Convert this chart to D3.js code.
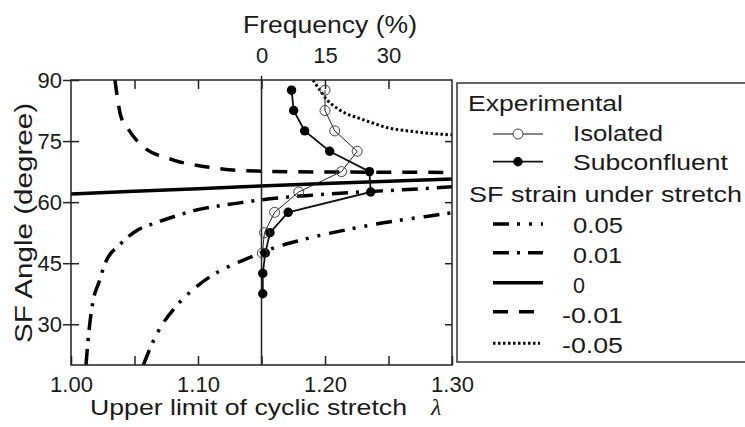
<!DOCTYPE html>
<html>
<head>
<meta charset="utf-8">
<script src="https://cdn.jsdelivr.net/npm/d3@7"></script>
<style>
  body { margin: 0; background: #fff; }
  svg { display: block; font-family: "Liberation Sans", Arial, sans-serif; }
  text { fill: #1a1a1a; }
</style>
</head>
<body>
<svg id="chart"></svg>
<script>
// tick values
const lambdaTicks = [1.00, 1.05, 1.10, 1.15, 1.20, 1.25, 1.30];
const lambdaLabels = [1.00, 1.10, 1.20, 1.30];
const angleTicks = [30, 45, 60, 75, 90];
const freqTicks = [0, 15, 30];

// experimental histograms (angle bin centre -> frequency %)
const isoAngles = [87.5, 82.5, 77.5, 72.5, 67.5, 62.5, 57.5, 52.5, 47.5];
const isolated = [15.0, 15.0, 17.3, 22.6, 18.9, 8.8, 3.1, 0.7, 0.2];
const subAngles = [87.5, 82.5, 77.5, 72.5, 67.5, 62.5, 57.5, 52.5, 47.5, 42.5, 37.5];
const subconfluent = [7.1, 7.6, 10.2, 16.1, 25.5, 25.8, 6.3, 2.0, 0.9, 0.3, 0.3];

// SF strain curves, [lambda, angle]
const strain005 = [[1.057, 20], [1.065, 26], [1.072, 30], [1.083, 34.5], [1.096, 38.5], [1.11, 41.8],
  [1.125, 44.3], [1.14, 46.3], [1.16, 48.8], [1.18, 50.6], [1.20, 52.1], [1.22, 53.4],
  [1.24, 54.6], [1.26, 55.6], [1.28, 56.5], [1.30, 57.4]];
const strain001 = [[1.0118, 20], [1.0134, 26], [1.0173, 35.6], [1.022, 40.3], [1.0268, 44.9],
  [1.0386, 49.6], [1.0528, 53.2], [1.0677, 55.0], [1.0835, 56.7], [1.098, 58.0], [1.113, 58.9],
  [1.13, 59.7], [1.143, 60.3], [1.165, 61.1], [1.194, 61.8], [1.223, 62.4], [1.265, 63.1], [1.30, 63.8]];
const strain0 = [[1.00, 62.0], [1.10, 63.3], [1.20, 64.6], [1.30, 65.7]];
const strainM001 = [[1.0346, 90], [1.036, 86.8], [1.039, 81.4], [1.046, 77.5], [1.055, 74.1],
  [1.08, 70.4], [1.102, 68.9], [1.127, 67.9], [1.15, 67.6], [1.20, 67.4], [1.25, 67.35], [1.30, 67.3]];
const strainM005 = [[1.1906, 90], [1.196, 87.5], [1.2016, 85.1], [1.208, 83.4], [1.2157, 81.9],
  [1.226, 80.7], [1.237, 79.5], [1.25, 78.2], [1.263, 77.6], [1.276, 77.1], [1.30, 76.5]];

const strainSeries = [
  { label: "0.05", data: strain005, dash: "16,8,3,9,3,9", width: 3.5 },
  { label: "0.01", data: strain001, dash: "16,8,3,8", width: 3.5 },
  { label: "0", data: strain0, dash: null, width: 3.5 },
  { label: "-0.01", data: strainM001, dash: "15,11", width: 3.5 },
  { label: "-0.05", data: strainM005, dash: "2.5,2.5", width: 3 }
];

const W = 745, H = 427;
const svg = d3.select("#chart").attr("width", W).attr("height", H);
svg.append("rect").attr("width", W).attr("height", H).attr("fill", "#fff");

const x = d3.scaleLinear().domain([1.0, 1.3]).range([71, 452]);
const y = d3.scaleLinear().domain([20, 90]).range([365, 80]);
const f = d3.scaleLinear().domain([-45, 45]).range([71, 452]);

svg.append("clipPath").attr("id", "plotclip")
  .append("rect").attr("x", 71).attr("y", 80).attr("width", 381).attr("height", 285);

// model curves
const curveLine = d3.line().x(d => x(d[0])).y(d => y(d[1])).curve(d3.curveMonotoneX);
const curves = svg.append("g").attr("clip-path", "url(#plotclip)");
strainSeries.forEach(s => {
  curves.append("path")
    .datum(s.data)
    .attr("d", curveLine)
    .attr("fill", "none")
    .attr("stroke", "#000")
    .attr("stroke-width", s.width)
    .attr("stroke-dasharray", s.dash);
});

// frequency zero line
svg.append("line")
  .attr("x1", f(0)).attr("x2", f(0))
  .attr("y1", 76).attr("y2", 365)
  .attr("stroke", "#222").attr("stroke-width", 1.5);

// experimental data
const isoPts = isoAngles.map((a, i) => [isolated[i], a]);
const subPts = subAngles.map((a, i) => [subconfluent[i], a]);
const expLine = d3.line().x(d => f(d[0])).y(d => y(d[1]));

svg.append("path").datum(subPts).attr("d", expLine)
  .attr("fill", "none").attr("stroke", "#111").attr("stroke-width", 1.8);
svg.append("path").datum(isoPts).attr("d", expLine)
  .attr("fill", "none").attr("stroke", "#222").attr("stroke-width", 1);

svg.selectAll(".sub").data(subPts).enter().append("circle")
  .attr("class", "sub")
  .attr("cx", d => f(d[0])).attr("cy", d => y(d[1]))
  .attr("r", 4.7).attr("fill", "#000");
svg.selectAll(".iso").data(isoPts).enter().append("circle")
  .attr("class", "iso")
  .attr("cx", d => f(d[0])).attr("cy", d => y(d[1]))
  .attr("r", 5).attr("fill", "none").attr("stroke", "#444").attr("stroke-width", 1);

// axes
function styleAxis(g) {
  g.select(".domain").remove();
  g.selectAll(".tick line").attr("stroke", "#222").attr("stroke-width", 1.5);
  g.selectAll(".tick text").attr("font-size", 22).attr("fill", "#1a1a1a")
    .attr("font-family", "Liberation Sans, Arial, sans-serif");
}

svg.append("g").attr("transform", "translate(0,365)")
  .call(d3.axisBottom(x).tickValues(lambdaTicks).tickSizeInner(-9).tickSizeOuter(0).tickPadding(11)
    .tickFormat(d => lambdaLabels.some(v => Math.abs(v - d) < 1e-9) ? d3.format(".2f")(d) : ""))
  .call(styleAxis);

svg.append("g").attr("transform", "translate(0,80)")
  .call(d3.axisTop(x).tickValues(lambdaTicks.slice(1, -1)).tickSize(-9).tickFormat(""))
  .call(styleAxis);

svg.append("g").attr("transform", "translate(0,80)")
  .call(d3.axisTop(f).tickValues(freqTicks).tickSize(0).tickPadding(17))
  .call(styleAxis);

const leftAxis = svg.append("g").attr("transform", "translate(71,0)")
  .call(d3.axisLeft(y).tickValues(angleTicks).tickSize(8).tickPadding(1))
  .call(styleAxis);
leftAxis.selectAll(".tick line").attr("x1", 8);

svg.append("g").attr("transform", "translate(452,0)")
  .call(d3.axisRight(y).tickValues(angleTicks.slice(0, -1)).tickSize(-7).tickFormat(""))
  .call(styleAxis);

// plot frame
svg.append("rect")
  .attr("x", 71).attr("y", 80).attr("width", 381).attr("height", 285)
  .attr("fill", "none").attr("stroke", "#222").attr("stroke-width", 1.5);

// axis titles
function wideText(px, py, str, len, size) {
  return svg.append("text")
    .attr("x", px).attr("y", py)
    .attr("font-size", size)
    .attr("textLength", len)
    .attr("lengthAdjust", "spacingAndGlyphs")
    .text(str);
}
wideText(243, 33, "Frequency (%)", 174, 23);
wideText(90, 415, "Upper limit of cyclic stretch", 317, 22);
svg.append("text")
  .attr("x", 431).attr("y", 415)
  .attr("font-family", "Liberation Serif, serif")
  .attr("font-style", "italic")
  .attr("font-size", 24)
  .text("λ");
svg.append("text")
  .attr("transform", "translate(32,343) rotate(-90)")
  .attr("font-size", 23)
  .attr("textLength", 240)
  .attr("lengthAdjust", "spacingAndGlyphs")
  .text("SF Angle (degree)");

// legend
svg.append("rect")
  .attr("x", 457).attr("y", 83).attr("width", 300).attr("height", 279)
  .attr("fill", "#fff").attr("stroke", "#333").attr("stroke-width", 1.5);

wideText(468, 110.5, "Experimental", 155, 22);
wideText(573, 141, "Isolated", 90, 22);
wideText(573, 170, "Subconfluent", 155, 22);
wideText(469, 201.5, "SF strain under stretch", 273, 22);

const expLegend = [
  { y: 134, filled: false },
  { y: 161.7, filled: true }
];
expLegend.forEach(e => {
  svg.append("line").attr("x1", 493).attr("x2", 543).attr("y1", e.y).attr("y2", e.y)
    .attr("stroke", "#111").attr("stroke-width", e.filled ? 1.8 : 1);
  svg.append("circle").attr("cx", 518).attr("cy", e.y)
    .attr("r", e.filled ? 4.7 : 5)
    .attr("fill", e.filled ? "#000" : "#fff")
    .attr("stroke", e.filled ? "none" : "#444");
});

const legLineY = [224, 252.7, 282.7, 311.7, 343.3];
const legTextY = [233.3, 263.3, 292.7, 323.3, 352.7];
const legTextX = [573, 573, 573, 562, 562];
const legTextW = [50, 49, 12, 61, 61];
strainSeries.forEach((s, i) => {
  svg.append("line")
    .attr("x1", 493).attr("x2", s.label === "-0.05" ? 540 : 543)
    .attr("y1", legLineY[i]).attr("y2", legLineY[i])
    .attr("stroke", "#000").attr("stroke-width", s.width)
    .attr("stroke-dasharray", s.dash);
  wideText(legTextX[i], legTextY[i], s.label, legTextW[i], 22);
});
</script>
</body>
</html>
